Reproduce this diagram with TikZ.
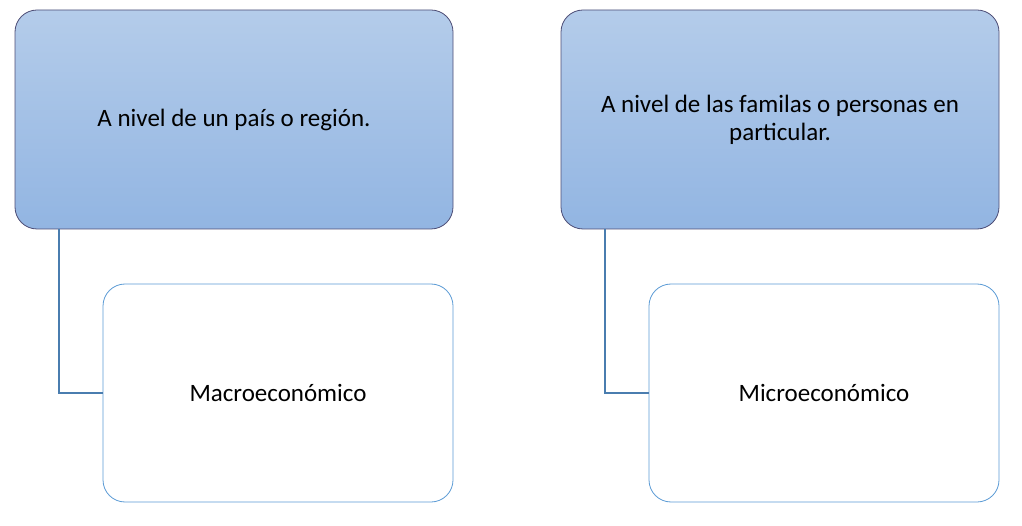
\documentclass[tikz,border=0pt]{standalone}
\usepackage{fontspec}
\setmainfont{Carlito}
\begin{document}
\begin{tikzpicture}[x=1pt,y=-1pt,
  topbox/.style={rounded corners=22pt, draw=black!60!blue!40!gray, line width=0.8pt,
    top color=topA, bottom color=topB, minimum width=438pt, minimum height=219pt,
    align=center, font=\fontsize{25}{28}\selectfont, inner sep=0pt},
  botbox/.style={rounded corners=22pt, draw=botline, line width=0.8pt, fill=white,
    minimum width=350pt, minimum height=218pt, align=center,
    font=\fontsize{25}{28}\selectfont, inner sep=0pt},
  conn/.style={draw=connc, line width=1.6pt}]
\definecolor{topA}{HTML}{B4CCEA}
\definecolor{topB}{HTML}{92B5E2}
\definecolor{botline}{HTML}{5B9BD5}
\definecolor{connc}{HTML}{4A7DAF}
\useasboundingbox (0,0) rectangle (1022,526);
\node[topbox] (t1) at (234,119.5) {A nivel de un país o región.};
\node[topbox] (t2) at (780,119.5) {A nivel de las familas o personas en\\particular.};
\node[botbox] (b1) at (278,393) {Macroeconómico};
\node[botbox] (b2) at (824,393) {Microeconómico};
\coordinate (c1) at (59,0);
\coordinate (c2) at (605,0);
\draw[conn] (c1 |- t1.south) |- (b1.west);
\draw[conn] (c2 |- t2.south) |- (b2.west);
\end{tikzpicture}
\end{document}
